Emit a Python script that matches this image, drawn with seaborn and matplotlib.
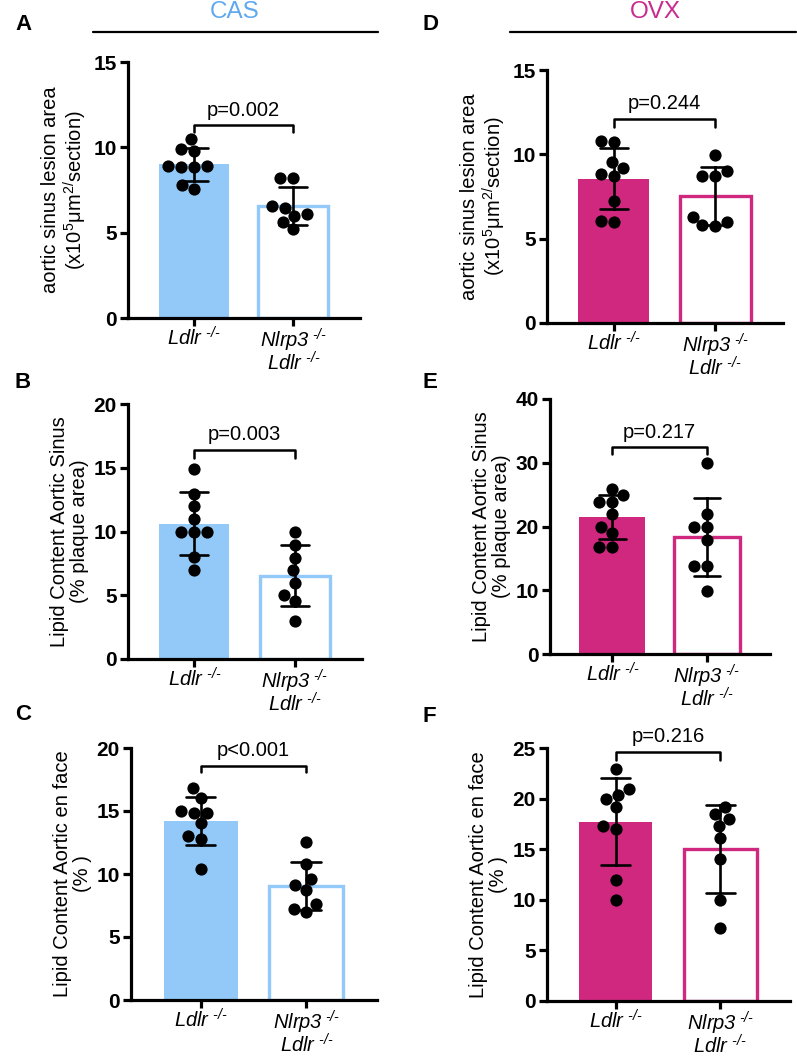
import numpy as np
import pandas as pd
import seaborn as sns
import matplotlib
matplotlib.use("Agg")
import matplotlib.pyplot as plt

# ---- data (one value per animal) ----
groups = ["Ldlr", "Nlrp3 Ldlr"]
group_labels = [r"$Ldlr^{\text{ -/-}}$",
                r"$Nlrp3^{\text{ -/-}}$" + "\n" + r"$Ldlr^{\text{ -/-}}$"]

cas_lesion_ldlr = [10.48, 9.78, 9.93, 8.92, 8.82, 8.82, 8.88, 7.82, 7.55]
cas_lesion_nlrp3 = [8.23, 8.23, 6.47, 6.55, 5.98, 6.12, 5.63, 5.20]
ovx_lesion_ldlr = [10.80, 10.74, 9.20, 9.52, 8.71, 8.81, 7.22, 5.99, 6.05]
ovx_lesion_nlrp3 = [9.99, 8.71, 8.71, 9.00, 5.99, 6.29, 5.74, 5.80]

cas_sinus_ldlr = [14.93, 12.96, 11.97, 10.98, 9.93, 9.93, 9.93, 7.97, 6.95]
cas_sinus_nlrp3 = [9.96, 8.96, 7.92, 6.95, 6.00, 5.04, 4.52, 2.95]
ovx_sinus_ldlr = [25.9, 24.96, 23.9, 23.9, 21.93, 19.9, 18.96, 16.86, 16.86]
ovx_sinus_nlrp3 = [29.92, 21.93, 19.9, 19.9, 17.9, 13.88, 13.88, 9.92]

cas_enface_ldlr = [16.82, 16.03, 14.98, 14.85, 14.85, 14.02, 13.02, 12.81, 10.41]
cas_enface_nlrp3 = [12.55, 10.80, 9.62, 9.10, 8.71, 7.61, 7.22, 6.98]
ovx_enface_ldlr = [22.94, 20.99, 19.94, 20.33, 19.13, 17.01, 17.33, 11.96, 10.00]
ovx_enface_nlrp3 = [19.19, 18.48, 17.99, 17.33, 16.13, 14.01, 10.00, 7.17]

p_texts = ["p=0.002", "p=0.003", "p<0.001", "p=0.244", "p=0.217", "p=0.216"]
bracket_top = [11.3, 16.4, 18.6, 12.1, 32.4, 24.6]
bracket_drop = [0.4, 0.6, 0.5, 0.5, 1.0, 0.75]

ylabel_lesion = "aortic sinus lesion area\n" + r"(x10$^{\mathsf{5}}$μm$^{\mathsf{2/}}$section)"
ylabel_sinus = "Lipid Content Aortic Sinus\n(% plaque area)"
ylabel_enface = "Lipid Content Aortic en face\n(% )"

CAS_BAR = "#92c9f8"
CAS_TXT = "#5ea9ee"
OVX_BAR = "#cf287e"
OVX_TXT = "#c92a8e"

sns.set_theme(style="ticks", rc={"text.color": "black", "axes.labelcolor": "black",
                                 "axes.edgecolor": "black", "xtick.color": "black",
                                 "ytick.color": "black"})
plt.rcParams["font.family"] = ["Liberation Sans", "DejaVu Sans"]
plt.rcParams["mathtext.fontset"] = "custom"
plt.rcParams["mathtext.rm"] = "Liberation Sans:italic"
plt.rcParams["mathtext.it"] = "Liberation Sans:italic"
plt.rcParams["mathtext.sf"] = "Liberation Sans"
plt.rcParams["mathtext.bf"] = "Liberation Sans:bold"

fig = plt.figure(figsize=(7.97, 10.59), dpi=100)
W, H = 797, 1059


def add_ax(x0, x1, ytop, ybot):
    return fig.add_axes([x0 / W, 1 - ybot / H, (x1 - x0) / W, (ybot - ytop) / H])


def panel(ax, ldlr, nlrp3, color, ylabel, yticks, ptext, btop, bdrop):
    df = pd.DataFrame({
        "group": [groups[0]] * len(ldlr) + [groups[1]] * len(nlrp3),
        "value": ldlr + nlrp3,
    })
    sns.barplot(data=df, x="group", y="value", order=groups, color=color,
                errorbar="sd", capsize=0.28, width=0.7, saturation=1,
                err_kws={"color": "black", "linewidth": 1.9}, ax=ax)
    bars = ax.patches
    bars[0].set_linewidth(0)
    bars[1].set_facecolor("white")
    bars[1].set_edgecolor(color)
    bars[1].set_linewidth(2.4)
    sns.swarmplot(data=df, x="group", y="value", order=groups, color="black",
                  size=8.8, ax=ax, zorder=3)

    ax.set_xlim(-0.66, 1.67)
    ax.set_ylim(0, yticks[-1])
    ax.set_yticks(yticks)
    ax.set_yticklabels([str(t) for t in yticks], fontweight="bold", fontsize=15)
    ax.set_xticks([0, 1])
    ax.set_xticklabels(group_labels, fontsize=14.5, linespacing=0.88)
    ax.set_xlabel("")
    ax.set_ylabel(ylabel, fontsize=14.5, labelpad=3, linespacing=1.1)
    sns.despine(ax=ax)
    for side in ["left", "bottom"]:
        ax.spines[side].set_linewidth(2.3)
    ax.tick_params(direction="out", length=6, width=2.3)
    ax.tick_params(axis="x", pad=0)
    ax.tick_params(axis="y", pad=2)

    # significance bracket
    ax.plot([0, 0, 1, 1], [btop - bdrop, btop, btop, btop - bdrop],
            color="black", lw=1.8, clip_on=False)
    ax.annotate(ptext, xy=(0.5, btop), xytext=(0, 4), textcoords="offset points",
                ha="center", va="bottom", fontsize=14.5, annotation_clip=False)


axA = add_ax(128, 360, 62, 318)
axB = add_ax(128, 362, 404, 659)
axC = add_ax(131, 377, 748, 1000)
axD = add_ax(547, 783, 70, 323)
axE = add_ax(550, 770, 399, 654)
axF = add_ax(547, 790, 748, 1001)

panel(axA, cas_lesion_ldlr, cas_lesion_nlrp3, CAS_BAR, ylabel_lesion,
      [0, 5, 10, 15], p_texts[0], bracket_top[0], bracket_drop[0])
panel(axB, cas_sinus_ldlr, cas_sinus_nlrp3, CAS_BAR, ylabel_sinus,
      [0, 5, 10, 15, 20], p_texts[1], bracket_top[1], bracket_drop[1])
panel(axC, cas_enface_ldlr, cas_enface_nlrp3, CAS_BAR, ylabel_enface,
      [0, 5, 10, 15, 20], p_texts[2], bracket_top[2], bracket_drop[2])
panel(axD, ovx_lesion_ldlr, ovx_lesion_nlrp3, OVX_BAR, ylabel_lesion,
      [0, 5, 10, 15], p_texts[3], bracket_top[3], bracket_drop[3])
panel(axE, ovx_sinus_ldlr, ovx_sinus_nlrp3, OVX_BAR, ylabel_sinus,
      [0, 10, 20, 30, 40], p_texts[4], bracket_top[4], bracket_drop[4])
panel(axF, ovx_enface_ldlr, ovx_enface_nlrp3, OVX_BAR, ylabel_enface,
      [0, 5, 10, 15, 20, 25], p_texts[5], bracket_top[5], bracket_drop[5])

# panel letters
for letter, (lx, ly) in zip("ABCDEF", [(15, 25), (15, 382), (15, 715),
                                       (422, 25), (422, 383), (422, 717)]):
    fig.text(lx / W, 1 - ly / H, letter, fontsize=16, fontweight="bold",
             ha="left", va="center")

# group headers
fig.text(235 / W, 1 - 12 / H, "CAS", color=CAS_TXT, fontsize=17.5, ha="center", va="center")
fig.text(655 / W, 1 - 12 / H, "OVX", color=OVX_TXT, fontsize=17.5, ha="center", va="center")
fig.add_artist(plt.Line2D([93 / W, 378 / W], [1 - 32 / H] * 2, color="black", lw=1.6))
fig.add_artist(plt.Line2D([510 / W, 796 / W], [1 - 32 / H] * 2, color="black", lw=1.6))

fig.savefig("out.png", dpi=100)
